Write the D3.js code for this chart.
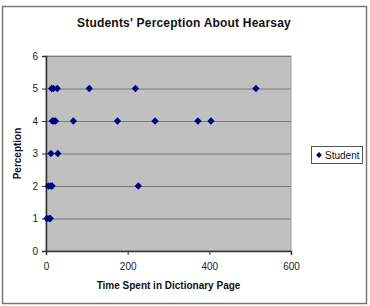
<!DOCTYPE html>
<head>
  <meta charset="utf-8">
  <title>Students' Perception About Hearsay</title>
</head>
<style>
  body { margin: 0; background: #fff; }
  svg { display: block; font-family: "Liberation Sans", Arial, sans-serif; }
  .tick text { font-size: 10px; fill: #222; }
</style>
<svg width="370" height="306"></svg>
<script src="https://d3js.org/d3.v7.min.js"></script>
<script>
  // time spent (x) and perception score (y) for each student
  var timeSpent  = [2, 8, 10.5, 6, 12, 15, 226, 12, 29, 15.4, 19.5, 23.4, 67, 175, 267, 372, 404, 13.7, 17.8, 27.6, 106, 219, 514];
  var perception = [1, 1, 1,    2, 2,  2,  2,   3,  3,  4,    4,    4,    4,  4,   4,   4,   4,   5,    5,    5,    5,   5,   5];
  var xTicks = [0, 200, 400, 600];
  var yTicks = [0, 1, 2, 3, 4, 5, 6];
  var seriesName = "Student";

  var svg = d3.select("svg");
  var plotL = 46, plotR = 291, plotT = 56, plotB = 251;

  var x = d3.scaleLinear().domain([0, 600]).range([plotL, plotR]);
  var y = d3.scaleLinear().domain([0, 6]).range([plotB, plotT]);

  // outer chart border
  svg.append("rect")
    .attr("x", 2.5).attr("y", 6.5).attr("width", 364).attr("height", 297)
    .attr("fill", "#fff").attr("stroke", "#777").attr("stroke-width", 1.5);

  svg.append("text")
    .attr("x", 184).attr("y", 27)
    .attr("text-anchor", "middle")
    .attr("font-size", "12px").attr("font-weight", "bold").attr("fill", "#111")
    .attr("letter-spacing", "0.2px")
    .text("Students' Perception About Hearsay");

  // plot area
  svg.append("rect")
    .attr("x", plotL).attr("y", plotT).attr("width", plotR - plotL).attr("height", plotB - plotT)
    .attr("fill", "#c0c0c0").attr("stroke", "#999");

  svg.append("g").selectAll("line")
    .data(yTicks.slice(1))
    .enter().append("line")
    .attr("x1", plotL).attr("x2", plotR)
    .attr("y1", function (d) { return y(d) + 0.5; })
    .attr("y2", function (d) { return y(d) + 0.5; })
    .attr("stroke", "#7a7a7a");

  var yAxis = svg.append("g")
    .attr("transform", "translate(" + plotL + ",0)")
    .call(d3.axisLeft(y).tickValues(yTicks).tickFormat(d3.format("d")).tickSize(4).tickPadding(4));
  var xAxis = svg.append("g")
    .attr("transform", "translate(0," + plotB + ")")
    .call(d3.axisBottom(x).tickValues(xTicks).tickFormat(d3.format("d")).tickSize(4).tickPadding(8));
  [xAxis, yAxis].forEach(function (a) {
    a.select(".domain").attr("stroke", "#333").attr("stroke-width", 1.5);
    a.selectAll(".tick line").attr("stroke", "#333");
  });

  var diamond = d3.symbol().type(d3.symbolDiamond2).size(34);

  svg.append("g").selectAll("path")
    .data(timeSpent)
    .enter().append("path")
    .attr("d", diamond)
    .attr("transform", function (d, i) {
      return "translate(" + x(d) + "," + y(perception[i]) + ")";
    })
    .attr("fill", "#000080");

  svg.append("text")
    .attr("transform", "translate(21," + ((plotT + plotB) / 2) + ") rotate(-90)")
    .attr("text-anchor", "middle")
    .attr("font-size", "10px").attr("font-weight", "bold").attr("fill", "#111")
    .text("Perception");

  svg.append("text")
    .attr("x", (plotL + plotR) / 2).attr("y", 289)
    .attr("text-anchor", "middle")
    .attr("font-size", "10px").attr("font-weight", "bold").attr("fill", "#111")
    .text("Time Spent in Dictionary Page");

  // legend
  var legend = svg.append("g").attr("transform", "translate(311,146)");
  legend.append("rect")
    .attr("x", 0.5).attr("y", 0.5).attr("width", 51).attr("height", 17)
    .attr("fill", "#fff").attr("stroke", "#555");
  legend.append("path")
    .attr("d", d3.symbol().type(d3.symbolDiamond2).size(22))
    .attr("transform", "translate(8,9)")
    .attr("fill", "#000080");
  legend.append("text")
    .attr("x", 14).attr("y", 13)
    .attr("font-size", "10px").attr("fill", "#111")
    .text(seriesName);
</script>
